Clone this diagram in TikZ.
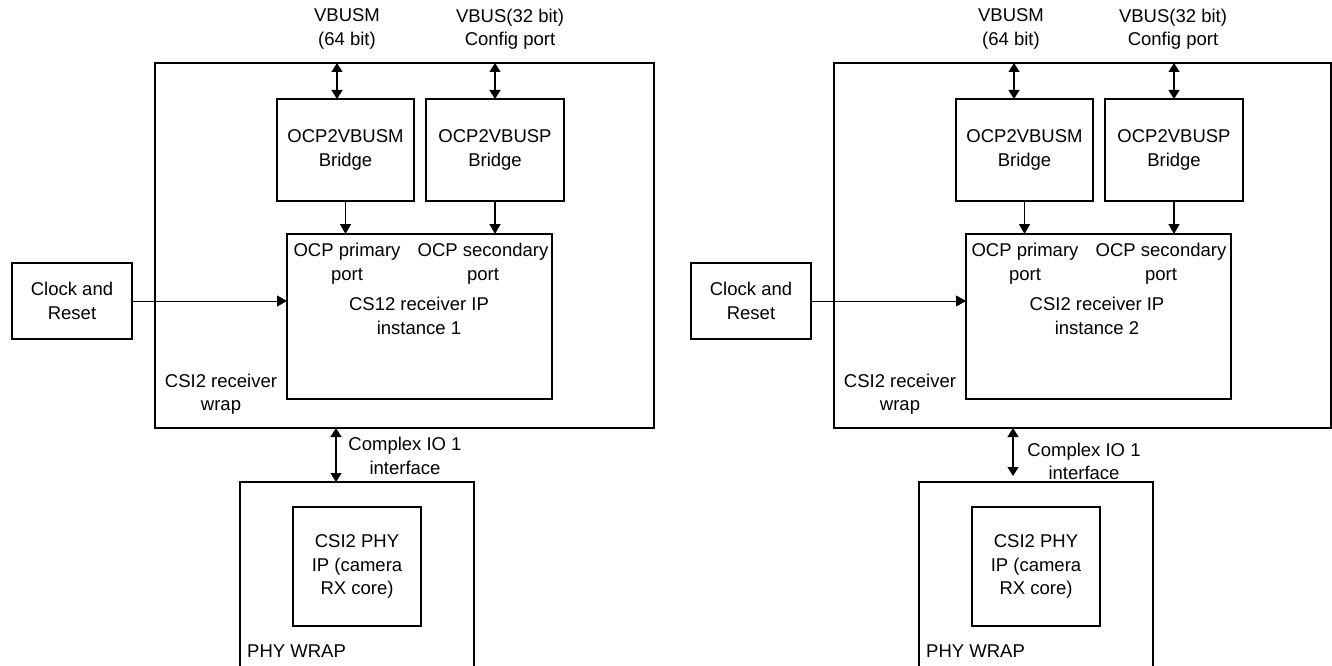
\documentclass[tikz,border=0pt]{standalone}
\usepackage{fontspec}
\setmainfont{Liberation Sans}
\usetikzlibrary{arrows.meta,calc}
\newcommand\dfont{\fontsize{18.5pt}{23.5pt}\selectfont}
\begin{document}
\begin{tikzpicture}[x=1pt,y=-1pt,
  box/.style={draw, line width=2pt, outer sep=0pt, inner sep=0pt, align=center, font=\dfont},
  txt/.style={inner sep=0pt, align=center, font=\dfont},
  conn/.style={line width=1.3pt, -{Triangle[length=10pt,width=11pt]}},
  bicon/.style={line width=1.3pt, {Triangle[length=9pt,width=11pt]}-{Triangle[length=9pt,width=11pt]}},
]
\fill[white] (0,0) rectangle (1332,666);
\useasboundingbox (0,0) rectangle (1332,666);

% ---------------- left diagram ----------------
\node[box, minimum width=499pt, minimum height=365pt] (Lwrap) at (404.5,245.5) {};
\node[box, minimum width=137pt, minimum height=102pt] (Lm) at (345.5,150) {OCP2VBUSM\\Bridge};
\node[box, minimum width=138pt, minimum height=102pt] (Lp) at (495,150) {OCP2VBUSP\\Bridge};
\node[box, minimum width=265pt, minimum height=165pt] (Lip) at (419.5,316.5) {};
\node[box, minimum width=120pt, minimum height=76pt] (Lclk) at (72,301) {Clock and\\Reset};
\node[box, minimum width=234pt, minimum height=200pt] (Lphy) at (357,582) {};
\node[box, minimum width=128pt, minimum height=119pt] (Lcore) at (357,566.5) {CSI2 PHY\\IP (camera\\RX core)};

\node[txt] (Lvbusm) at (347,29) {VBUSM\\(64 bit)};
\node[txt] (Lvbus) at (510,29) {VBUS(32 bit)\\Config port};
\node[txt] (Lpri) at (347,263.5) {OCP primary\\port};
\node[txt] (Lsec) at (483,263.5) {OCP secondary\\port};
\node[txt] (Liptxt) at (419,316) {CS12 receiver IP\\instance 1};
\node[txt] (Lwraptxt) at (221,394) {CSI2 receiver\\wrap};
\node[txt] (Lcio) at (405,456) {Complex IO 1\\interface};
\node[txt, anchor=west] (Lphytxt) at (247,651) {PHY WRAP};

\coordinate (Lxm) at (337,0);
\coordinate (Lxio) at (336,0);
\draw[bicon] (Lxm |- Lwrap.north) -- (Lxm |- Lm.north);
\draw[bicon] (Lp.north |- Lwrap.north) -- (Lp.north);
\draw[conn] (Lm.south) -- (Lm.south |- Lip.north);
\draw[conn] (Lp.south) -- (Lp.south |- Lip.north);
\draw[conn, line width=1pt] (Lclk.east) -- (Lclk.east -| Lip.west);
\draw[bicon] (Lxio |- Lwrap.south) -- (Lxio |- Lphy.north);

% ---------------- right diagram ----------------
\node[box, minimum width=497pt, minimum height=365pt] (Rwrap) at (1082.5,245.5) {};
\node[box, minimum width=137pt, minimum height=102pt] (Rm) at (1024.5,150) {OCP2VBUSM\\Bridge};
\node[box, minimum width=138pt, minimum height=102pt] (Rp) at (1174,150) {OCP2VBUSP\\Bridge};
\node[box, minimum width=265pt, minimum height=165pt] (Rip) at (1098.5,316.5) {};
\node[box, minimum width=120pt, minimum height=76pt] (Rclk) at (751,301) {Clock and\\Reset};
\node[box, minimum width=234pt, minimum height=200pt] (Rphy) at (1036,582) {};
\node[box, minimum width=128pt, minimum height=119pt] (Rcore) at (1036,566.5) {CSI2 PHY\\IP (camera\\RX core)};

\node[txt] (Rvbusm) at (1011,29) {VBUSM\\(64 bit)};
\node[txt] (Rvbus) at (1173,29) {VBUS(32 bit)\\Config port};
\node[txt] (Rpri) at (1025,263.5) {OCP primary\\port};
\node[txt] (Rsec) at (1161,263.5) {OCP secondary\\port};
\node[txt] (Riptxt) at (1097,316) {CSI2 receiver IP\\instance 2};
\node[txt] (Rwraptxt) at (900,394) {CSI2 receiver\\wrap};
\node[txt] (Rcio) at (1084,461.5) {Complex IO 1\\interface};
\node[txt, anchor=west] (Rphytxt) at (926,651) {PHY WRAP};

\coordinate (Rxm) at (1014,0);
\coordinate (Rioend) at (1013,476);
\draw[bicon] (Rxm |- Rwrap.north) -- (Rxm |- Rm.north);
\draw[bicon] (Rp.north |- Rwrap.north) -- (Rp.north);
\draw[conn] (Rm.south) -- (Rm.south |- Rip.north);
\draw[conn] (Rp.south) -- (Rp.south |- Rip.north);
\draw[conn, line width=1pt] (Rclk.east) -- (Rclk.east -| Rip.west);
\draw[bicon] (Rioend |- Rwrap.south) -- (Rioend);
\end{tikzpicture}
\end{document}
